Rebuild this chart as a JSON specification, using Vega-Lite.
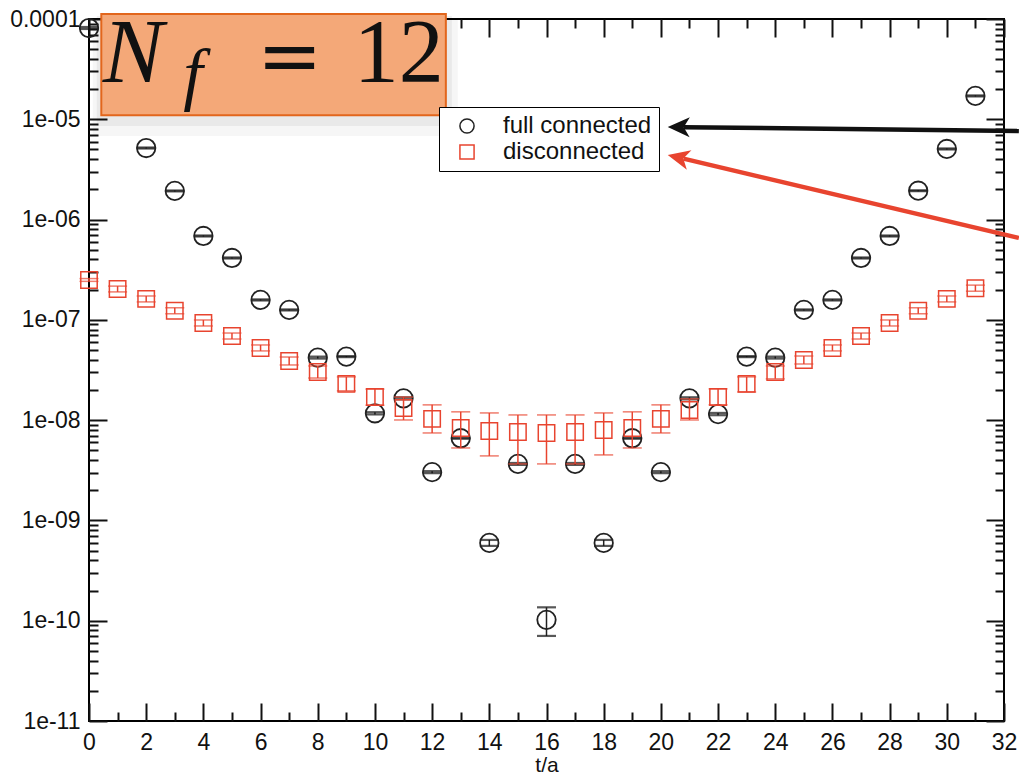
{
  "$schema": "https://vega.github.io/schema/vega-lite/v6.json",
  "autosize": {"type": "none"},
  "width": 915,
  "height": 702,
  "padding": {"left": 89, "top": 19, "right": 15, "bottom": 53},
  "background": "white",
  "datasets": {
    "black": [
      {"t": 0, "v": 8.13e-5, "lo": 7.95e-5, "hi": 8.32e-5, "series": "full connected"},
      {"t": 1, "v": 1.71e-5, "lo": 1.67e-5, "hi": 1.75e-5, "series": "full connected"},
      {"t": 2, "v": 5.17e-6, "lo": 5.11e-6, "hi": 5.23e-6, "series": "full connected"},
      {"t": 3, "v": 1.93e-6, "lo": 1.91e-6, "hi": 1.95e-6, "series": "full connected"},
      {"t": 4, "v": 6.86e-7, "lo": 6.78e-7, "hi": 6.94e-7, "series": "full connected"},
      {"t": 5, "v": 4.14e-7, "lo": 4.09e-7, "hi": 4.19e-7, "series": "full connected"},
      {"t": 6, "v": 1.58e-7, "lo": 1.56e-7, "hi": 1.60e-7, "series": "full connected"},
      {"t": 7, "v": 1.256e-7, "lo": 1.241e-7, "hi": 1.271e-7, "series": "full connected"},
      {"t": 8, "v": 4.20e-8, "lo": 4.11e-8, "hi": 4.30e-8, "series": "full connected"},
      {"t": 9, "v": 4.30e-8, "lo": 4.25e-8, "hi": 4.35e-8, "series": "full connected"},
      {"t": 10, "v": 1.17e-8, "lo": 1.14e-8, "hi": 1.20e-8, "series": "full connected"},
      {"t": 11, "v": 1.65e-8, "lo": 1.61e-8, "hi": 1.69e-8, "series": "full connected"},
      {"t": 12, "v": 3.03e-9, "lo": 2.96e-9, "hi": 3.10e-9, "series": "full connected"},
      {"t": 13, "v": 6.60e-9, "lo": 6.52e-9, "hi": 6.68e-9, "series": "full connected"},
      {"t": 14, "v": 5.97e-10, "lo": 5.57e-10, "hi": 6.39e-10, "series": "full connected"},
      {"t": 15, "v": 3.66e-9, "lo": 3.58e-9, "hi": 3.74e-9, "series": "full connected"},
      {"t": 16, "v": 1.02e-10, "lo": 7.05e-11, "hi": 1.36e-10, "series": "full connected"},
      {"t": 17, "v": 3.66e-9, "lo": 3.58e-9, "hi": 3.74e-9, "series": "full connected"},
      {"t": 18, "v": 5.97e-10, "lo": 5.57e-10, "hi": 6.39e-10, "series": "full connected"},
      {"t": 19, "v": 6.60e-9, "lo": 6.52e-9, "hi": 6.68e-9, "series": "full connected"},
      {"t": 20, "v": 3.03e-9, "lo": 2.96e-9, "hi": 3.10e-9, "series": "full connected"},
      {"t": 21, "v": 1.65e-8, "lo": 1.61e-8, "hi": 1.69e-8, "series": "full connected"},
      {"t": 22, "v": 1.15e-8, "lo": 1.12e-8, "hi": 1.18e-8, "series": "full connected"},
      {"t": 23, "v": 4.30e-8, "lo": 4.25e-8, "hi": 4.35e-8, "series": "full connected"},
      {"t": 24, "v": 4.20e-8, "lo": 4.11e-8, "hi": 4.30e-8, "series": "full connected"},
      {"t": 25, "v": 1.256e-7, "lo": 1.241e-7, "hi": 1.271e-7, "series": "full connected"},
      {"t": 26, "v": 1.58e-7, "lo": 1.56e-7, "hi": 1.60e-7, "series": "full connected"},
      {"t": 27, "v": 4.14e-7, "lo": 4.09e-7, "hi": 4.19e-7, "series": "full connected"},
      {"t": 28, "v": 6.86e-7, "lo": 6.78e-7, "hi": 6.94e-7, "series": "full connected"},
      {"t": 29, "v": 1.94e-6, "lo": 1.92e-6, "hi": 1.96e-6, "series": "full connected"},
      {"t": 30, "v": 5.06e-6, "lo": 5.00e-6, "hi": 5.12e-6, "series": "full connected"},
      {"t": 31, "v": 1.71e-5, "lo": 1.69e-5, "hi": 1.73e-5, "series": "full connected"}
    ],
    "red": [
      {"t": 0, "v": 2.50e-7, "lo": 2.42e-7, "hi": 2.58e-7, "series": "disconnected"},
      {"t": 1, "v": 2.03e-7, "lo": 1.90e-7, "hi": 2.17e-7, "series": "disconnected"},
      {"t": 2, "v": 1.62e-7, "lo": 1.51e-7, "hi": 1.73e-7, "series": "disconnected"},
      {"t": 3, "v": 1.23e-7, "lo": 1.15e-7, "hi": 1.32e-7, "series": "disconnected"},
      {"t": 4, "v": 9.31e-8, "lo": 8.69e-8, "hi": 9.97e-8, "series": "disconnected"},
      {"t": 5, "v": 6.90e-8, "lo": 6.44e-8, "hi": 7.39e-8, "series": "disconnected"},
      {"t": 6, "v": 5.25e-8, "lo": 4.90e-8, "hi": 5.62e-8, "series": "disconnected"},
      {"t": 7, "v": 3.89e-8, "lo": 3.55e-8, "hi": 4.26e-8, "series": "disconnected"},
      {"t": 8, "v": 3.02e-8, "lo": 2.63e-8, "hi": 3.47e-8, "series": "disconnected"},
      {"t": 9, "v": 2.30e-8, "lo": 1.96e-8, "hi": 2.70e-8, "series": "disconnected"},
      {"t": 10, "v": 1.70e-8, "lo": 1.41e-8, "hi": 2.04e-8, "series": "disconnected"},
      {"t": 11, "v": 1.32e-8, "lo": 1.004e-8, "hi": 1.70e-8, "series": "disconnected"},
      {"t": 12, "v": 1.03e-8, "lo": 7.45e-9, "hi": 1.42e-8, "series": "disconnected"},
      {"t": 13, "v": 8.36e-9, "lo": 5.28e-9, "hi": 1.21e-8, "series": "disconnected"},
      {"t": 14, "v": 7.80e-9, "lo": 4.40e-9, "hi": 1.18e-8, "series": "disconnected"},
      {"t": 15, "v": 7.62e-9, "lo": 3.66e-9, "hi": 1.127e-8, "series": "disconnected"},
      {"t": 16, "v": 7.44e-9, "lo": 3.66e-9, "hi": 1.127e-8, "series": "disconnected"},
      {"t": 17, "v": 7.62e-9, "lo": 3.66e-9, "hi": 1.127e-8, "series": "disconnected"},
      {"t": 18, "v": 7.98e-9, "lo": 4.50e-9, "hi": 1.18e-8, "series": "disconnected"},
      {"t": 19, "v": 8.36e-9, "lo": 5.28e-9, "hi": 1.21e-8, "series": "disconnected"},
      {"t": 20, "v": 1.03e-8, "lo": 7.45e-9, "hi": 1.42e-8, "series": "disconnected"},
      {"t": 21, "v": 1.26e-8, "lo": 1.004e-8, "hi": 1.63e-8, "series": "disconnected"},
      {"t": 22, "v": 1.70e-8, "lo": 1.42e-8, "hi": 2.05e-8, "series": "disconnected"},
      {"t": 23, "v": 2.30e-8, "lo": 1.91e-8, "hi": 2.70e-8, "series": "disconnected"},
      {"t": 24, "v": 3.02e-8, "lo": 2.58e-8, "hi": 3.47e-8, "series": "disconnected"},
      {"t": 25, "v": 3.98e-8, "lo": 3.63e-8, "hi": 4.36e-8, "series": "disconnected"},
      {"t": 26, "v": 5.25e-8, "lo": 4.90e-8, "hi": 5.62e-8, "series": "disconnected"},
      {"t": 27, "v": 6.90e-8, "lo": 6.44e-8, "hi": 7.39e-8, "series": "disconnected"},
      {"t": 28, "v": 9.31e-8, "lo": 8.69e-8, "hi": 9.97e-8, "series": "disconnected"},
      {"t": 29, "v": 1.23e-7, "lo": 1.15e-7, "hi": 1.32e-7, "series": "disconnected"},
      {"t": 30, "v": 1.62e-7, "lo": 1.51e-7, "hi": 1.73e-7, "series": "disconnected"},
      {"t": 31, "v": 2.07e-7, "lo": 1.93e-7, "hi": 2.22e-7, "series": "disconnected"}
    ]
  },
  "resolve": {"axis": {"x": "independent", "y": "independent"}},
  "layer": [
    {
      "data": {"name": "black"},
      "mark": {"type": "rule", "color": "#222222", "strokeWidth": 1.5},
      "encoding": {
        "x": {"field": "t", "type": "quantitative", "scale": {"domain": [0, 32], "nice": false, "zero": false},
          "axis": {"orient": "bottom", "values": [0,2,4,6,8,10,12,14,16,18,20,22,24,26,28,30,32], "offset": -18, "tickSize": 18, "labelPadding": 10, "format": "d", "title": "t/a", "titleFontSize": 21, "titleFontWeight": "normal", "titleFont": "Liberation Sans", "titlePadding": 0, "titleColor": "#111"}},
        "y": {"field": "lo", "type": "quantitative", "scale": {"type": "log", "domain": [1e-11, 1e-4], "nice": false},
          "axis": {"orient": "left", "values": [1e-11,1e-10,1e-9,1e-8,1e-7,1e-6,1e-5,1e-4], "offset": -18, "tickSize": 18, "labelPadding": 9, "title": null,
            "labelExpr": "datum.value >= 5e-5 ? '0.0001' : '1e-' + format(-round(log(datum.value)/LN10), '02d')"}},
        "y2": {"field": "hi"}
      }
    },
    {
      "data": {"name": "black"},
      "mark": {"type": "tick", "orient": "horizontal", "color": "#111111", "size": 19, "thickness": 2.2},
      "encoding": {
        "x": {"field": "t", "type": "quantitative", "scale": {"domain": [0, 32], "nice": false, "zero": false},
          "axis": {"orient": "bottom", "values": [1,3,5,7,9,11,13,15,17,19,21,23,25,27,29,31], "offset": -9, "tickSize": 9, "labels": false, "title": null}},
        "y": {"field": "lo", "type": "quantitative", "scale": {"type": "log", "domain": [1e-11, 1e-4], "nice": false},
          "axis": {"orient": "left", "offset": -9, "tickSize": 9, "labels": false, "title": null,
            "values": [2e-11,3e-11,4e-11,5e-11,6e-11,7e-11,8e-11,9e-11,2e-10,3e-10,4e-10,5e-10,6e-10,7e-10,8e-10,9e-10,2e-9,3e-9,4e-9,5e-9,6e-9,7e-9,8e-9,9e-9,2e-8,3e-8,4e-8,5e-8,6e-8,7e-8,8e-8,9e-8,2e-7,3e-7,4e-7,5e-7,6e-7,7e-7,8e-7,9e-7,2e-6,3e-6,4e-6,5e-6,6e-6,7e-6,8e-6,9e-6,2e-5,3e-5,4e-5,5e-5,6e-5,7e-5,8e-5,9e-5]}}
      }
    },
    {
      "data": {"name": "black"},
      "mark": {"type": "tick", "orient": "horizontal", "color": "#111111", "size": 19, "thickness": 2.2},
      "encoding": {
        "x": {"field": "t", "type": "quantitative", "scale": {"domain": [0, 32], "nice": false, "zero": false}, "axis": null},
        "y": {"field": "hi", "type": "quantitative", "scale": {"type": "log", "domain": [1e-11, 1e-4], "nice": false}, "axis": null}
      }
    },
    {
      "data": {"name": "black"},
      "mark": {"type": "point", "filled": false, "size": 340, "strokeWidth": 1.8, "opacity": 1},
      "encoding": {
        "x": {"field": "t", "type": "quantitative", "scale": {"domain": [0, 32], "nice": false, "zero": false}, "axis": null},
        "y": {"field": "v", "type": "quantitative", "scale": {"type": "log", "domain": [1e-11, 1e-4], "nice": false}, "axis": null},
        "color": {"field": "series", "type": "nominal", "scale": {"domain": ["full connected", "disconnected"], "range": ["#222222", "#E8442F"]},
          "legend": {"title": null, "orient": "none", "legendX": 350, "legendY": 88, "strokeColor": "black", "fillColor": "white", "padding": 7, "labelFontSize": 24, "labelFont": "Liberation Sans", "labelColor": "#111", "symbolSize": 200, "symbolStrokeWidth": 1.5, "symbolOffset": 9, "labelOffset": 24, "rowPadding": 2}},
        "shape": {"field": "series", "type": "nominal", "scale": {"domain": ["full connected", "disconnected"], "range": ["circle", "square"]},
          "legend": {"title": null, "orient": "none", "legendX": 350, "legendY": 88, "strokeColor": "black", "fillColor": "white", "padding": 7, "labelFontSize": 24, "labelFont": "Liberation Sans", "labelColor": "#111", "symbolSize": 200, "symbolStrokeWidth": 1.5, "symbolOffset": 9, "labelOffset": 24, "rowPadding": 2}}
      }
    },
    {
      "data": {"name": "red"},
      "mark": {"type": "rule", "color": "#E8442F", "strokeWidth": 1.5},
      "encoding": {
        "x": {"field": "t", "type": "quantitative", "scale": {"domain": [0, 32], "nice": false, "zero": false},
          "axis": {"orient": "top", "values": [0,2,4,6,8,10,12,14,16,18,20,22,24,26,28,30,32], "offset": -18, "tickSize": 18, "labels": false, "title": null}},
        "y": {"field": "lo", "type": "quantitative", "scale": {"type": "log", "domain": [1e-11, 1e-4], "nice": false},
          "axis": {"orient": "right", "values": [1e-11,1e-10,1e-9,1e-8,1e-7,1e-6,1e-5,1e-4], "offset": -18, "tickSize": 18, "labels": false, "title": null}},
        "y2": {"field": "hi"}
      }
    },
    {
      "data": {"name": "red"},
      "mark": {"type": "tick", "orient": "horizontal", "color": "#E8442F", "size": 19, "thickness": 1.5},
      "encoding": {
        "x": {"field": "t", "type": "quantitative", "scale": {"domain": [0, 32], "nice": false, "zero": false},
          "axis": {"orient": "top", "values": [1,3,5,7,9,11,13,15,17,19,21,23,25,27,29,31], "offset": -9, "tickSize": 9, "labels": false, "title": null}},
        "y": {"field": "lo", "type": "quantitative", "scale": {"type": "log", "domain": [1e-11, 1e-4], "nice": false},
          "axis": {"orient": "right", "offset": -9, "tickSize": 9, "labels": false, "title": null,
            "values": [2e-11,3e-11,4e-11,5e-11,6e-11,7e-11,8e-11,9e-11,2e-10,3e-10,4e-10,5e-10,6e-10,7e-10,8e-10,9e-10,2e-9,3e-9,4e-9,5e-9,6e-9,7e-9,8e-9,9e-9,2e-8,3e-8,4e-8,5e-8,6e-8,7e-8,8e-8,9e-8,2e-7,3e-7,4e-7,5e-7,6e-7,7e-7,8e-7,9e-7,2e-6,3e-6,4e-6,5e-6,6e-6,7e-6,8e-6,9e-6,2e-5,3e-5,4e-5,5e-5,6e-5,7e-5,8e-5,9e-5]}}
      }
    },
    {
      "data": {"name": "red"},
      "mark": {"type": "tick", "orient": "horizontal", "color": "#E8442F", "size": 19, "thickness": 1.5},
      "encoding": {
        "x": {"field": "t", "type": "quantitative", "scale": {"domain": [0, 32], "nice": false, "zero": false}, "axis": null},
        "y": {"field": "hi", "type": "quantitative", "scale": {"type": "log", "domain": [1e-11, 1e-4], "nice": false}, "axis": null}
      }
    },
    {
      "data": {"name": "red"},
      "mark": {"type": "point", "filled": false, "size": 270, "strokeWidth": 1.5, "opacity": 1},
      "encoding": {
        "x": {"field": "t", "type": "quantitative", "scale": {"domain": [0, 32], "nice": false, "zero": false}, "axis": null},
        "y": {"field": "v", "type": "quantitative", "scale": {"type": "log", "domain": [1e-11, 1e-4], "nice": false}, "axis": null},
        "color": {"field": "series", "type": "nominal", "scale": {"domain": ["full connected", "disconnected"], "range": ["#222222", "#E8442F"]},
          "legend": {"title": null, "orient": "none", "legendX": 350, "legendY": 88, "strokeColor": "black", "fillColor": "white", "padding": 7, "labelFontSize": 24, "labelFont": "Liberation Sans", "labelColor": "#111", "symbolSize": 200, "symbolStrokeWidth": 1.5, "symbolOffset": 9, "labelOffset": 24, "rowPadding": 2}},
        "shape": {"field": "series", "type": "nominal", "scale": {"domain": ["full connected", "disconnected"], "range": ["circle", "square"]},
          "legend": {"title": null, "orient": "none", "legendX": 350, "legendY": 88, "strokeColor": "black", "fillColor": "white", "padding": 7, "labelFontSize": 24, "labelFont": "Liberation Sans", "labelColor": "#111", "symbolSize": 200, "symbolStrokeWidth": 1.5, "symbolOffset": 9, "labelOffset": 24, "rowPadding": 2}}
      }
    },
    {
      "data": {"values": [{"x1": 0.13, "x2": 12.9, "y1": 1.02e-4, "y2": 6.83e-6}]},
      "mark": {"type": "rect", "color": "#000000", "opacity": 0.035},
      "encoding": {
        "x": {"field": "x1", "type": "quantitative", "scale": {"domain": [0, 32], "nice": false, "zero": false}, "axis": null},
        "x2": {"field": "x2"},
        "y": {"field": "y1", "type": "quantitative", "scale": {"type": "log", "domain": [1e-11, 1e-4], "nice": false}, "axis": null},
        "y2": {"field": "y2"}
      }
    },
    {
      "data": {"values": [{"x1": 0.27, "x2": 12.69, "y1": 1.07e-4, "y2": 8.57e-6}]},
      "mark": {"type": "rect", "color": "#000000", "opacity": 0.05},
      "encoding": {
        "x": {"field": "x1", "type": "quantitative", "scale": {"domain": [0, 32], "nice": false, "zero": false}, "axis": null},
        "x2": {"field": "x2"},
        "y": {"field": "y1", "type": "quantitative", "scale": {"type": "log", "domain": [1e-11, 1e-4], "nice": false}, "axis": null},
        "y2": {"field": "y2"}
      }
    },
    {
      "data": {"values": [{"x1": 0.43, "x2": 12.48, "y1": 1.12e-4, "y2": 1.10e-5}]},
      "mark": {"type": "rect", "fill": "#F4A878", "stroke": "#E2661C", "strokeWidth": 2},
      "encoding": {
        "x": {"field": "x1", "type": "quantitative", "scale": {"domain": [0, 32], "nice": false, "zero": false}, "axis": null},
        "x2": {"field": "x2"},
        "y": {"field": "y1", "type": "quantitative", "scale": {"type": "log", "domain": [1e-11, 1e-4], "nice": false}, "axis": null},
        "y2": {"field": "y2"}
      }
    },
    {
      "data": {"values": [{"x": 0.48, "y": 2.36e-5, "label": "N"}]},
      "mark": {"type": "text", "font": "Liberation Serif", "fontStyle": "italic", "fontSize": 91, "align": "left", "baseline": "alphabetic", "color": "#111"},
      "encoding": {
        "x": {"field": "x", "type": "quantitative", "scale": {"domain": [0, 32], "nice": false, "zero": false}, "axis": null},
        "y": {"field": "y", "type": "quantitative", "scale": {"type": "log", "domain": [1e-11, 1e-4], "nice": false}, "axis": null},
        "text": {"field": "label"}
      }
    },
    {
      "data": {"values": [{"x": 3.3, "y": 1.67e-5, "label": "f"}]},
      "mark": {"type": "text", "font": "Liberation Serif", "fontStyle": "italic", "fontSize": 70, "align": "left", "baseline": "alphabetic", "color": "#111"},
      "encoding": {
        "x": {"field": "x", "type": "quantitative", "scale": {"domain": [0, 32], "nice": false, "zero": false}, "axis": null},
        "y": {"field": "y", "type": "quantitative", "scale": {"type": "log", "domain": [1e-11, 1e-4], "nice": false}, "axis": null},
        "text": {"field": "label"}
      }
    },
    {
      "data": {"values": [{"x": 7.02, "y": 2.3e-5, "label": "="}]},
      "mark": {"type": "text", "font": "DejaVu Serif", "fontSize": 78, "align": "center", "baseline": "alphabetic", "color": "#111"},
      "encoding": {
        "x": {"field": "x", "type": "quantitative", "scale": {"domain": [0, 32], "nice": false, "zero": false}, "axis": null},
        "y": {"field": "y", "type": "quantitative", "scale": {"type": "log", "domain": [1e-11, 1e-4], "nice": false}, "axis": null},
        "text": {"field": "label"}
      }
    },
    {
      "data": {"values": [{"x": 12.41, "y": 2.36e-5, "label": "12"}]},
      "mark": {"type": "text", "font": "Liberation Serif", "fontSize": 90, "align": "right", "baseline": "alphabetic", "color": "#111"},
      "encoding": {
        "x": {"field": "x", "type": "quantitative", "scale": {"domain": [0, 32], "nice": false, "zero": false}, "axis": null},
        "y": {"field": "y", "type": "quantitative", "scale": {"type": "log", "domain": [1e-11, 1e-4], "nice": false}, "axis": null},
        "text": {"field": "label"}
      }
    },
    {
      "data": {"values": [{"x1": 20.8, "y1": 8.35e-6, "x2": 32.52, "y2": 7.64e-6}]},
      "mark": {"type": "rule", "color": "#111111", "strokeWidth": 4.5},
      "encoding": {
        "x": {"field": "x1", "type": "quantitative", "scale": {"domain": [0, 32], "nice": false, "zero": false}, "axis": null},
        "x2": {"field": "x2"},
        "y": {"field": "y1", "type": "quantitative", "scale": {"type": "log", "domain": [1e-11, 1e-4], "nice": false}, "axis": null},
        "y2": {"field": "y2"}
      }
    },
    {
      "data": {"values": [{"x": 20.24, "y": 8.37e-6}]},
      "mark": {"type": "point", "shape": "M0,0 L2.2,-1 L1.6,0 L2.2,1 Z", "size": 400, "filled": true, "color": "#111111", "opacity": 1, "angle": 0.6},
      "encoding": {
        "x": {"field": "x", "type": "quantitative", "scale": {"domain": [0, 32], "nice": false, "zero": false}, "axis": null},
        "y": {"field": "y", "type": "quantitative", "scale": {"type": "log", "domain": [1e-11, 1e-4], "nice": false}, "axis": null}
      }
    },
    {
      "data": {"values": [{"x1": 20.79, "y1": 4.05e-6, "x2": 32.52, "y2": 6.56e-7}]},
      "mark": {"type": "rule", "color": "#E8442F", "strokeWidth": 4.5},
      "encoding": {
        "x": {"field": "x1", "type": "quantitative", "scale": {"domain": [0, 32], "nice": false, "zero": false}, "axis": null},
        "x2": {"field": "x2"},
        "y": {"field": "y1", "type": "quantitative", "scale": {"type": "log", "domain": [1e-11, 1e-4], "nice": false}, "axis": null},
        "y2": {"field": "y2"}
      }
    },
    {
      "data": {"values": [{"x": 20.24, "y": 4.41e-6}]},
      "mark": {"type": "point", "shape": "M0,0 L2.2,-1 L1.6,0 L2.2,1 Z", "size": 400, "filled": true, "color": "#E8442F", "opacity": 1, "angle": 13.3},
      "encoding": {
        "x": {"field": "x", "type": "quantitative", "scale": {"domain": [0, 32], "nice": false, "zero": false}, "axis": null},
        "y": {"field": "y", "type": "quantitative", "scale": {"type": "log", "domain": [1e-11, 1e-4], "nice": false}, "axis": null}
      }
    }
  ],
  "config": {
    "view": {"stroke": "black", "strokeWidth": 2},
    "axis": {"domain": false, "zindex": 1, "ticks": true, "tickColor": "#111", "tickWidth": 2, "labelFont": "Liberation Sans", "labelFontSize": 23, "labelColor": "#111", "grid": false, "labelFlush": false, "labelOverlap": false}
  }
}
